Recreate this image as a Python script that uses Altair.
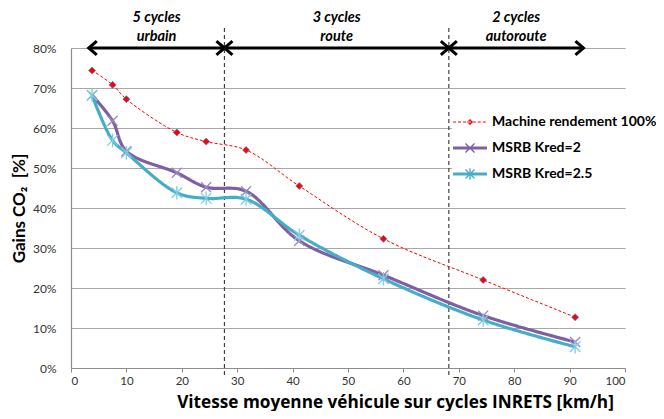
import math
import altair as alt
import pandas as pd

# ---------------- data ----------------
speed = [3.8, 7.5, 10.0, 19.1, 24.4, 31.6, 41.2, 56.4, 74.4, 91.0]
gain_machine = [0.744, 0.708, 0.672, 0.589, 0.566, 0.545, 0.455, 0.323, 0.220, 0.127]
gain_kred2 = [0.682, 0.618, 0.542, 0.488, 0.452, 0.442, 0.318, 0.232, 0.131, 0.065]
gain_kred25 = [0.682, 0.569, 0.538, 0.438, 0.424, 0.422, 0.332, 0.223, 0.120, 0.053]
series_names = ["Machine rendement 100%", "MSRB Kred=2", "MSRB Kred=2.5"]

zone_bounds = [27.7, 68.2]
arrow_start = [3.2, 27.7, 68.2]
arrow_end = [27.7, 68.2, 92.5]
zone_line1 = ["5 cycles", "3 cycles", "2 cycles"]
zone_line2 = ["urbain", "route", "autoroute"]
arrow_level = [0.8, 0.8, 0.8]

x_ticks = [0, 10, 20, 30, 40, 50, 60, 70, 80, 90, 100]
y_ticks = [0.0, 0.1, 0.2, 0.3, 0.4, 0.5, 0.6, 0.7, 0.8]

# ---------------- tables ----------------
values = [gain_machine, gain_kred2, gain_kred25]
df = pd.DataFrame(
    [{"speed": s, "gain": g, "series": name}
     for name, vals in zip(series_names, values)
     for s, g in zip(speed, vals)]
)
zones = pd.DataFrame({"start": arrow_start, "end": arrow_end,
                      "line1": zone_line1, "line2": zone_line2,
                      "level": arrow_level})
zones["mid"] = (zones["start"] + zones["end"]) / 2
bounds = pd.DataFrame({"b": zone_bounds})

# ---------------- styles ----------------
FONT = "Lato, 'Open Sans', 'DejaVu Sans', sans-serif"
TFONT = "'Open Sans', Lato, 'DejaVu Sans', sans-serif"
RED = "#FF0000"
PURPLE = "#7E5FA1"
CYAN = "#45ADC8"
GRID = "#A8A8A8"
AXIS = "#8C8C8C"
X_TITLE = "Vitesse moyenne véhicule sur cycles INRETS [km/h]"
Y_TITLE = "Gains CO₂\u00a0\u00a0[%]"

W, H = 554, 320

xs = alt.Scale(domain=[0, 100], nice=False, zero=False)
ys = alt.Scale(domain=[0, 0.8], nice=False)

xaxis = alt.Axis(values=x_ticks, grid=False, domainColor=AXIS, domainWidth=1.2,
                 tickColor=AXIS, tickSize=4, labelPadding=3,
                 labelFont=FONT, labelFontSize=11.5, labelColor="#333333",
                 titleFont=TFONT, titleFontSize=17.2, titleFontWeight="bold",
                 titleColor="black", titleX=324, titleY=39,
                 titleBaseline="alphabetic", titleAlign="center")
yaxis = alt.Axis(values=y_ticks, format=".0%", grid=True, gridColor=GRID,
                 gridWidth=1.2, domainColor=AXIS, domainWidth=1.2,
                 ticks=False, tickSize=0, labelPadding=15,
                 labelFont=FONT, labelFontSize=12, labelColor="#333333",
                 titleFont=FONT, titleFontSize=17,
                 titleFontWeight="bold", titleColor="black",
                 titleX=-52, titleY=H / 2, titleAngle=270,
                 titleAlign="center", titleBaseline="middle")


def xenc(field):
    return alt.X(field, scale=xs, axis=xaxis, title=X_TITLE)


def yenc(field):
    return alt.Y(field, scale=ys, axis=yaxis, title=Y_TITLE)


X = xenc("speed:Q")
Y = yenc("gain:Q")

base = alt.Chart(df)

# dashed zone separators
zone_rules = alt.Chart(bounds).mark_rule(
    strokeDash=[4, 3], color="#404040", strokeWidth=1.2
).encode(x=xenc("b:Q"), y=alt.value(-20), y2=alt.value(H + 9))

# data lines
line_specs = [
    (series_names[0], RED, 1.0, [3, 2]),
    (series_names[1], PURPLE, 3.2, [1, 0]),
    (series_names[2], CYAN, 3.2, [1, 0]),
]
line_layers = [
    base.transform_filter(alt.datum.series == name)
    .mark_line(interpolate="catmull-rom", color=col, strokeWidth=w, strokeDash=dash)
    .encode(x=X, y=Y)
    for name, col, w, dash in line_specs
]

# markers
X_PATH = "M-1,-1L1,1M-1,1L1,-1"
AST_PATH = "M-1,-1L1,1M-1,1L1,-1M0,-1.3L0,1.3"
DIAM_PATH = "M0,-1L1,0L0,1L-1,0Z"
pt_machine = base.transform_filter(alt.datum.series == series_names[0]).mark_point(
    shape=DIAM_PATH, size=49, filled=True, fill=RED, stroke="#4F81BD",
    strokeWidth=0.8, opacity=1).encode(x=X, y=Y)
pt_k2 = base.transform_filter(alt.datum.series == series_names[1]).mark_point(
    shape=X_PATH, size=100, filled=False, stroke="#9C86BE",
    strokeWidth=1.3, opacity=1).encode(x=X, y=Y)
pt_k25 = base.transform_filter(alt.datum.series == series_names[2]).mark_point(
    shape=AST_PATH, size=110, filled=False, stroke="#7DCDE2",
    strokeWidth=1.3, opacity=1).encode(x=X, y=Y)

# zone arrows
arrows = alt.Chart(zones).mark_rule(color="black", strokeWidth=3).encode(
    x=xenc("start:Q"), x2="end:Q", y=yenc("level:Q"))
head_l = alt.Chart(zones).mark_point(
    shape="M1,-0.85L0,0L1,0.85", size=256, filled=False, color="black",
    strokeWidth=3, opacity=1).encode(x=xenc("start:Q"), y=yenc("level:Q"))
head_r = alt.Chart(zones).mark_point(
    shape="M-1,-0.85L0,0L-1,0.85", size=256, filled=False, color="black",
    strokeWidth=3, opacity=1).encode(x=xenc("end:Q"), y=yenc("level:Q"))
txt1 = alt.Chart(zones).mark_text(
    font=FONT, fontSize=14.5, fontWeight="bold", fontStyle="italic",
    baseline="alphabetic", color="black").encode(
    x=xenc("mid:Q"), y=alt.value(-26), text="line1:N")
txt2 = alt.Chart(zones).mark_text(
    font=FONT, fontSize=14.5, fontWeight="bold", fontStyle="italic",
    baseline="alphabetic", color="black").encode(
    x=xenc("mid:Q"), y=alt.value(-7.5), text="line2:N")


# legend (drawn from the scale domain only)
def seg(x0, y0, x1, y1, h):
    dx, dy = x1 - x0, y1 - y0
    L = math.hypot(dx, dy)
    nx, ny = -dy / L * h, dx / L * h
    pts = [(x0 + nx, y0 + ny), (x1 + nx, y1 + ny), (x1 - nx, y1 - ny), (x0 - nx, y0 - ny)]
    return "M" + "L".join(f"{a:.3f},{b:.3f}" for a, b in pts) + "Z"


red_leg = ""
pos = -1.13
while pos < 1.13:
    end = min(pos + 0.2, 1.13)
    red_leg += seg(pos, 0, end, 0, 0.035)
    pos += 0.33
red_leg += "M0,-0.2L0.2,0L0,0.2L-0.2,0Z"
thick = seg(-1.13, 0, 1.13, 0, 0.1)
xmark = seg(-0.3, -0.3, 0.3, 0.3, 0.045) + seg(-0.3, 0.3, 0.3, -0.3, 0.045)
purple_leg = thick + xmark
cyan_leg = thick + xmark + seg(0, -0.38, 0, 0.38, 0.045)

legend = alt.Legend(title=None, orient="none", legendX=381, legendY=56, padding=3,
                    fillColor="white", symbolSize=900, symbolStrokeWidth=0,
                    symbolOpacity=1, labelFont=FONT, labelFontSize=14,
                    labelFontWeight="bold", labelColor="black", labelOffset=7,
                    rowPadding=4, labelLimit=300)
legend_layer = base.transform_filter("false").mark_point(filled=True, opacity=1).encode(
    x=X, y=Y,
    shape=alt.Shape("series:N", scale=alt.Scale(domain=series_names,
                    range=[red_leg, purple_leg, cyan_leg]), legend=legend),
    fill=alt.Fill("series:N", scale=alt.Scale(domain=series_names,
                  range=[RED, PURPLE, CYAN]), legend=legend),
)

chart = alt.layer(
    zone_rules, *line_layers, pt_machine, pt_k2, pt_k25,
    arrows, head_l, head_r, txt1, txt2, legend_layer
).resolve_scale(
    shape="independent", fill="independent"
).properties(
    width=W, height=H,
    autosize=alt.AutoSizeParams(type="none"),
    padding={"left": 63, "top": 40, "right": 31, "bottom": 43},
).configure_view(stroke="transparent")

chart.save("out.html", embed_options={"renderer": "svg", "actions": False})
